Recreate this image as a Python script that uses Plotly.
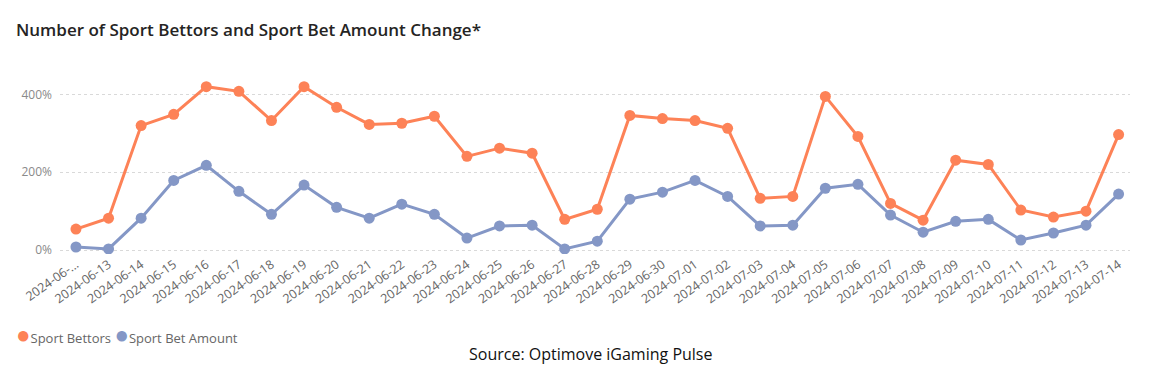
import plotly.graph_objects as go

dates = ["2024-06-12","2024-06-13","2024-06-14","2024-06-15","2024-06-16","2024-06-17","2024-06-18",
         "2024-06-19","2024-06-20","2024-06-21","2024-06-22","2024-06-23","2024-06-24","2024-06-25",
         "2024-06-26","2024-06-27","2024-06-28","2024-06-29","2024-06-30","2024-07-01","2024-07-02",
         "2024-07-03","2024-07-04","2024-07-05","2024-07-06","2024-07-07","2024-07-08","2024-07-09",
         "2024-07-10","2024-07-11","2024-07-12","2024-07-13","2024-07-14"]
tick_labels = ["2024-06-..."] + dates[1:]

y_ticks = [0, 200, 400]
y_tick_labels = ["0%", "200%", "400%"]

sport_bettors = [54, 82, 320, 349, 420, 408, 333, 420, 367, 323, 326, 344, 241, 262, 249, 79, 105,
                 346, 338, 333, 313, 133, 138, 395, 292, 120, 77, 231, 220, 103, 85, 100, 297]
sport_bet_amount = [8, 3, 82, 179, 218, 151, 92, 167, 110, 82, 118, 92, 31, 62, 64, 3, 23,
                    131, 149, 179, 138, 62, 64, 159, 169, 90, 46, 74, 79, 26, 44, 64, 144]

series_names = ["Sport Bettors", "Sport Bet Amount"]
c_orange = "#FD8257"
c_blue = "#8497C6"

W, H = 1159, 385
ML, MR, MT, MB = 60, 29, 75, 131
PW, PH = W - ML - MR, H - MT - MB

def px_x(px):
    return (px - ML) / PW

def px_y(py):
    return (H - MB - py) / PH

fig = go.Figure()
for name, vals, col in [(series_names[0], sport_bettors, c_orange),
                        (series_names[1], sport_bet_amount, c_blue)]:
    fig.add_trace(go.Scatter(x=dates, y=vals, mode="lines+markers", name=name,
                             line=dict(color=col, width=3),
                             marker=dict(color=col, size=11),
                             showlegend=False, hovertemplate="%{x}: %{y}%<extra>" + name + "</extra>"))

dot = "<span style='color:{c};font-size:24px'>●</span>"
legend_text = (dot.format(c=c_orange) + series_names[0] + " "
               + dot.format(c=c_blue) + series_names[1])

fig.update_layout(
    width=W, height=H,
    paper_bgcolor="white", plot_bgcolor="white",
    margin=dict(l=ML, r=MR, t=MT, b=MB),
    title=dict(text="Number of Sport Bettors and Sport Bet Amount Change*",
               x=16 / W, xanchor="left", y=1 - 30 / H, yanchor="middle",
               font=dict(family="Open Sans", size=17, color="#252423", weight=600)),
    font=dict(family="Open Sans", color="#777777"),
    xaxis=dict(type="category", tickmode="array", tickvals=dates, ticktext=tick_labels,
               tickangle=-35, tickfont=dict(size=12.5, color="#666666"),
               showgrid=False, zeroline=False, showline=False, ticks="",
               range=[-0.49, 32.35]),
    yaxis=dict(range=[-10, 450], tickmode="array", tickvals=y_ticks, ticktext=y_tick_labels,
               tickfont=dict(size=12, color="#8A8A8A"), ticklabelstandoff=7,
               showgrid=True, gridcolor="#D9D9D9", griddash="dot", gridwidth=1,
               zeroline=False, showline=False, ticks=""),
    showlegend=False,
    annotations=[
        dict(text=legend_text, xref="paper", yref="paper",
             x=px_x(14), y=px_y(333), xanchor="left", yanchor="middle", showarrow=False,
             font=dict(family="Open Sans", size=13, color="#666666")),
        dict(text="Source: Optimove iGaming Pulse", xref="paper", yref="paper",
             x=px_x(590), y=px_y(354), xanchor="center", yanchor="middle", showarrow=False,
             font=dict(family="Open Sans", size=16, color="#111111")),
    ],
)

fig.write_html("out.html", post_script="document.body.style.margin='0';",
               config={"displayModeBar": False})
